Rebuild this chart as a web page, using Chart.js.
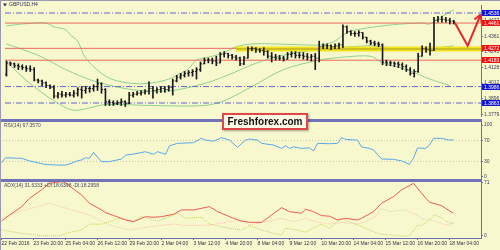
<!DOCTYPE html>
<html lang="en">
<head>
<meta charset="UTF-8">
<title>GBPUSD,H4</title>
<script src="https://cdn.jsdelivr.net/npm/chart.js"></script>
<style>
    body {
        margin: 0;
        width: 500px;
        height: 250px;
        background-color: #f8f8cf;
        position: relative;
        overflow: hidden;
    }
    .pane { position: absolute; left: 0; }
    .sep {
        position: absolute;
        left: 0;
        width: 482px;
        height: 3px;
        background-color: #7272b8;
    }
    .frame {
        position: absolute;
        left: 0; top: 0;
        width: 500px; height: 250px;
        border-top: 1px solid #9a9aae;
        border-left: 1px solid #9a9aae;
        box-sizing: border-box;
        pointer-events: none;
    }
    .stamp {
        position: absolute;
        left: 222px;
        top: 113px;
        width: 82px;
        height: 13px;
        background-color: #fdf7e6;
        border: 2px solid #e04848;
        box-shadow: 1px 1px 2px rgba(0,0,0,0.35);
        font: bold 10px 'Liberation Sans', Arial, sans-serif;
        color: #111;
        text-align: center;
        line-height: 13px;
    }
</style>
</head>
<body>
    <canvas id="mainChart" class="pane" style="top:0" width="500" height="121"></canvas>
    <canvas id="rsiChart" class="pane" style="top:120px" width="500" height="60"></canvas>
    <canvas id="adxChart" class="pane" style="top:180px" width="500" height="70"></canvas>
    <div class="sep" style="top:119px"></div>
    <div class="sep" style="top:179px"></div>
    <div class="frame"></div>
    <div class="stamp">Freshforex.com</div>

<script>
// ---- data (H4 bars, index 0 = first bar on the left) ----
const opens = [
    1.4078, 1.4163, 1.4156, 1.4142, 1.4135, 1.4128, 1.4120, 1.4113, 1.4035, 1.4028,
    1.4014, 1.3993, 1.3978, 1.3915, 1.3929, 1.3922, 1.3929, 1.3922, 1.3936, 1.3964,
    1.3957, 1.3971, 1.3971, 1.3986, 1.4007, 1.3964, 1.3873, 1.3866, 1.3858, 1.3866,
    1.3873, 1.3858, 1.3922, 1.3929, 1.3936, 1.3943, 1.3951, 1.3971, 1.3957, 1.3964,
    1.3971, 1.3964, 1.3978, 1.4028, 1.4057, 1.4071, 1.4085, 1.4092, 1.4099, 1.4113,
    1.4156, 1.4184, 1.4184, 1.4177, 1.4163, 1.4227, 1.4234, 1.4220, 1.4206, 1.4199,
    1.4156, 1.4199, 1.4270, 1.4270, 1.4262, 1.4255, 1.4248, 1.4213, 1.4206, 1.4199,
    1.4199, 1.4191, 1.4227, 1.4234, 1.4220, 1.4220, 1.4213, 1.4206, 1.4213, 1.4199,
    1.4284, 1.4291, 1.4291, 1.4284, 1.4291, 1.4298, 1.4433, 1.4397, 1.4383, 1.4383,
    1.4390, 1.4355, 1.4326, 1.4312, 1.4305, 1.4298, 1.4170, 1.4163, 1.4163, 1.4156,
    1.4149, 1.4135, 1.4113, 1.4085, 1.4099, 1.4213, 1.4270, 1.4262, 1.4255, 1.4482,
    1.4489, 1.4489, 1.4482, 1.4475
];
const highs = [
    1.4177, 1.4170, 1.4163, 1.4156, 1.4149, 1.4142, 1.4142, 1.4128, 1.4042, 1.4035,
    1.4021, 1.4000, 1.3993, 1.3943, 1.3951, 1.3943, 1.3943, 1.3957, 1.3978, 1.3986,
    1.3986, 1.3986, 1.4000, 1.4042, 1.4014, 1.3971, 1.3887, 1.3880, 1.3880, 1.3894,
    1.3880, 1.3943, 1.3943, 1.3951, 1.3957, 1.3964, 1.4021, 1.3986, 1.3978, 1.3986,
    1.3986, 1.3993, 1.4042, 1.4071, 1.4085, 1.4099, 1.4106, 1.4113, 1.4128, 1.4170,
    1.4199, 1.4199, 1.4199, 1.4213, 1.4241, 1.4248, 1.4234, 1.4227, 1.4220, 1.4206,
    1.4213, 1.4284, 1.4284, 1.4277, 1.4270, 1.4277, 1.4255, 1.4241, 1.4227, 1.4220,
    1.4213, 1.4241, 1.4248, 1.4248, 1.4241, 1.4241, 1.4234, 1.4227, 1.4234, 1.4326,
    1.4305, 1.4305, 1.4298, 1.4305, 1.4312, 1.4447, 1.4440, 1.4404, 1.4397, 1.4404,
    1.4390, 1.4355, 1.4333, 1.4326, 1.4319, 1.4305, 1.4184, 1.4177, 1.4170, 1.4170,
    1.4163, 1.4149, 1.4128, 1.4113, 1.4234, 1.4291, 1.4284, 1.4312, 1.4504, 1.4511,
    1.4511, 1.4504, 1.4497, 1.4482
];
const lows = [
    1.4064, 1.4142, 1.4128, 1.4113, 1.4113, 1.4099, 1.4099, 1.4028, 1.4014, 1.3993,
    1.3978, 1.3971, 1.3900, 1.3900, 1.3907, 1.3907, 1.3915, 1.3907, 1.3915, 1.3900,
    1.3936, 1.3943, 1.3951, 1.3957, 1.3936, 1.3844, 1.3844, 1.3844, 1.3851, 1.3844,
    1.3837, 1.3858, 1.3907, 1.3922, 1.3922, 1.3929, 1.3929, 1.3900, 1.3936, 1.3943,
    1.3943, 1.3951, 1.3922, 1.4021, 1.4042, 1.4057, 1.4064, 1.4064, 1.4042, 1.4099,
    1.4156, 1.4163, 1.4156, 1.4142, 1.4163, 1.4206, 1.4199, 1.4191, 1.4184, 1.4142,
    1.4149, 1.4199, 1.4255, 1.4241, 1.4241, 1.4220, 1.4199, 1.4170, 1.4184, 1.4184,
    1.4177, 1.4191, 1.4206, 1.4199, 1.4199, 1.4191, 1.4184, 1.4177, 1.4113, 1.4170,
    1.4270, 1.4270, 1.4262, 1.4270, 1.4270, 1.4277, 1.4383, 1.4369, 1.4362, 1.4362,
    1.4341, 1.4312, 1.4298, 1.4291, 1.4284, 1.4149, 1.4142, 1.4142, 1.4135, 1.4128,
    1.4113, 1.4099, 1.4071, 1.4057, 1.4092, 1.4213, 1.4241, 1.4220, 1.4255, 1.4468,
    1.4468, 1.4468, 1.4454, 1.4454
];
const closes = [
    1.4163, 1.4156, 1.4142, 1.4135, 1.4128, 1.4120, 1.4113, 1.4035, 1.4028, 1.4014,
    1.3993, 1.3978, 1.3915, 1.3929, 1.3922, 1.3929, 1.3922, 1.3936, 1.3964, 1.3957,
    1.3971, 1.3971, 1.3986, 1.4007, 1.3964, 1.3873, 1.3866, 1.3858, 1.3866, 1.3873,
    1.3858, 1.3922, 1.3929, 1.3936, 1.3943, 1.3951, 1.3971, 1.3957, 1.3964, 1.3971,
    1.3964, 1.3978, 1.4028, 1.4057, 1.4071, 1.4085, 1.4092, 1.4099, 1.4113, 1.4156,
    1.4184, 1.4184, 1.4177, 1.4163, 1.4227, 1.4234, 1.4220, 1.4206, 1.4199, 1.4156,
    1.4199, 1.4270, 1.4270, 1.4262, 1.4255, 1.4248, 1.4213, 1.4206, 1.4199, 1.4199,
    1.4191, 1.4227, 1.4234, 1.4220, 1.4220, 1.4213, 1.4206, 1.4213, 1.4199, 1.4284,
    1.4291, 1.4291, 1.4284, 1.4291, 1.4298, 1.4433, 1.4397, 1.4383, 1.4383, 1.4390,
    1.4355, 1.4326, 1.4312, 1.4305, 1.4298, 1.4170, 1.4163, 1.4163, 1.4156, 1.4149,
    1.4135, 1.4113, 1.4085, 1.4099, 1.4213, 1.4270, 1.4262, 1.4255, 1.4482, 1.4489,
    1.4489, 1.4482, 1.4475, 1.4468
];

// Bollinger bands at selected bars
const bbUpperIdx = [0, 4, 7, 10, 12, 15, 16, 18, 19, 20, 22, 25, 28, 33, 37, 41, 44, 46, 48, 52, 55, 58, 62, 67, 75, 80, 83, 86, 90, 95, 100, 105, 107, 110, 113];
const bbUpper = [1.4440, 1.4454, 1.4461, 1.4461, 1.4433, 1.4412, 1.4376, 1.4326, 1.4255, 1.4199, 1.4135, 1.4064, 1.4028, 1.4007, 1.4014, 1.4042, 1.4085, 1.4120, 1.4184, 1.4213, 1.4241, 1.4284, 1.4305, 1.4305, 1.4298, 1.4298, 1.4326, 1.4390, 1.4419, 1.4440, 1.4454, 1.4461, 1.4454, 1.4511, 1.4560];
const bbMidIdx = [0, 8, 15, 22, 30, 37, 42, 47, 52, 57, 62, 67, 72, 77, 82, 87, 92, 97, 102, 107, 113];
const bbMid = [1.4305, 1.4220, 1.4113, 1.4028, 1.3971, 1.3951, 1.3957, 1.3986, 1.4028, 1.4085, 1.4149, 1.4199, 1.4234, 1.4255, 1.4270, 1.4284, 1.4291, 1.4277, 1.4262, 1.4270, 1.4291];
const bbLowerIdx = [0, 6, 12, 17, 25, 37, 50, 55, 62, 70, 79, 85, 92, 95, 101, 107, 112];
const bbLower = [1.4170, 1.4007, 1.3880, 1.3809, 1.3851, 1.3844, 1.3844, 1.3880, 1.3986, 1.4113, 1.4184, 1.4206, 1.4213, 1.4163, 1.4113, 1.4042, 1.3993];

// horizontal levels drawn on the chart
const levelValues = [1.4536, 1.4461, 1.4272, 1.4183, 1.3986, 1.3863];
const levelKinds = ['blue', 'red', 'red', 'red', 'blue', 'blue'];
const zoneValue = 1.4267;
const zoneFrom = 58;

// forecast arrow
const arrowIdx = [113.3, 116.5, 119.8];
const arrowPrice = [1.4461, 1.4291, 1.4525];

const priceTicks = [1.3779, 1.3896, 1.4012, 1.4128, 1.4245, 1.4361, 1.4477];

// RSI(14)
const rsiIdx = [0, 1, 5, 7, 11, 14, 16, 17, 19, 20, 21, 22, 23, 25, 27, 30, 31, 33, 36, 38, 39, 41, 42, 44, 48, 50, 51, 53, 55, 57, 59, 61, 62, 64, 65, 68, 70, 71, 72, 73, 75, 77, 78, 79, 82, 84, 85, 86, 89, 90, 92, 93, 95, 98, 100, 102, 103, 104, 106, 107, 108, 110, 112, 113];
const rsiVal = [27.5, 37, 36, 31, 24, 23, 23, 25, 31, 33, 37, 36, 47.5, 29.5, 29.5, 34.6, 42, 44, 48.7, 43.6, 48.7, 43.6, 60, 64.7, 66, 74.4, 71, 69, 75.6, 71, 57, 71, 73, 71, 64.7, 61.5, 55, 60, 55, 58, 55, 56, 50, 64.7, 64, 64.7, 75.6, 72.5, 71, 58, 55, 52, 34.6, 34, 31, 24.4, 36, 56, 55, 61.5, 74.4, 74.4, 71, 71.5];
const rsiLevels = [70, 30];

// ADX(14) with +DI / -DI
const adxIdx = [0, 2, 5, 7, 10, 12, 15, 16, 17, 20, 22, 25, 26, 28, 31, 33, 36, 38, 40, 43, 45, 48, 52, 54, 58, 60, 62, 65, 67, 70, 72, 75, 76, 78, 80, 82, 84, 86, 89, 90, 93, 95, 98, 100, 103, 105, 107, 110, 111, 113];
const adxVal = [20, 28, 39, 50.5, 61.7, 70.6, 72.8, 71.5, 67, 55, 43.8, 34.9, 31.3, 27.5, 21.4, 19.2, 25.9, 25, 25.9, 29, 34.9, 34.9, 39.3, 32.6, 23.7, 20, 18.3, 18.3, 25.9, 38, 32.6, 30.4, 35.8, 32.6, 27.3, 26.5, 21.4, 23.7, 21.4, 23.7, 32.6, 43.8, 52.7, 61.7, 70.6, 57.2, 45.2, 40.6, 37.1, 30.4];
const pdiIdx = [0, 5, 10, 15, 16, 20, 22, 25, 27, 30, 33, 35, 39, 41, 44, 46, 50, 52, 57, 60, 62, 65, 67, 70, 71, 74, 76, 78, 80, 82, 85, 87, 90, 93, 95, 99, 102, 104, 105, 107, 108, 110, 111, 113];
const pdiVal = [8, 3.6, 0.4, 0.4, 3.6, 8, 15.7, 16, 19.2, 24.5, 20, 26, 20, 24, 30.4, 23.7, 25, 16, 10.3, 8, 14, 8, 5, 1.3, 10.3, 8, 5, 11, 15.7, 10.3, 23.7, 19, 12.5, 5.8, 2.3, 0.4, 0, 14.7, 14, 21.4, 28, 25, 20, 17];
const mdiIdx = [0, 5, 12, 16, 22, 27, 32, 37, 43, 46, 52, 60, 62, 67, 70, 73, 76, 79, 82, 85, 89, 91, 94, 95, 97, 99, 101, 103, 105, 109, 111, 113];
const mdiVal = [24, 33.5, 43.8, 37.5, 28, 14.7, 8, 12.5, 16, 14, 14.7, 21.4, 14.7, 20, 23.7, 19, 23.7, 18.3, 16, 18, 16, 19, 28, 37, 32.6, 34, 35, 30.4, 23.7, 19, 14.7, 17.4];

const timeTickIdx = [0, 8, 16, 24, 32, 40, 48, 56, 64, 72, 80, 88, 96, 104, 112];
const timeLabels = ['22 Feb 2016', '23 Feb 20:00', '25 Feb 04:00', '26 Feb 12:00', '29 Feb 20:00',
    '2 Mar 04:00', '3 Mar 12:00', '4 Mar 20:00', '8 Mar 04:00', '9 Mar 12:00', '10 Mar 20:00',
    '14 Mar 04:00', '15 Mar 12:00', '16 Mar 20:00', '18 Mar 04:00'];

// ---- shared settings ----
const FONT = "'Liberation Sans', Arial, sans-serif";
const AXIS = '#6e6eb4';
// bars land on half pixels so the 1px candles stay crisp
const X_MIN = -0.375, X_MAX = 119.875;
Chart.defaults.animation = false;
Chart.defaults.font.family = FONT;

const pts = (xs, ys) => xs.map((x, k) => ({ x: x, y: ys[k] }));
const flat = (v, from) => [{ x: from, y: v }, { x: X_MAX, y: v }];

function rightAxis(min, max, tickValues, fmt) {
    return {
        position: 'right',
        min: min,
        max: max,
        afterBuildTicks: s => { s.ticks = tickValues.map(v => ({ value: v })); },
        afterFit: s => { s.width = 19; s.paddingTop = 0; s.paddingBottom = 0; },
        ticks: { font: { size: 5 }, color: '#3c3c5a', padding: 1, callback: fmt },
        grid: { drawOnChartArea: false, tickLength: 2, color: AXIS },
        border: { color: AXIS, width: 1 }
    };
}
const hiddenX = { type: 'linear', min: X_MIN, max: X_MAX, offset: false, display: false };

// small text at the top-left of each pane
const paneText = {
    id: 'paneText',
    afterDraw(chart, args, opts) {
        const ctx = chart.ctx;
        ctx.save();
        ctx.font = '5px ' + FONT;
        ctx.fillStyle = opts.color;
        ctx.textBaseline = 'middle';
        if (opts.marker) {
            ctx.beginPath();
            ctx.moveTo(3, opts.y - 1.5);
            ctx.lineTo(7, opts.y - 1.5);
            ctx.lineTo(5, opts.y + 1.5);
            ctx.closePath();
            ctx.fill();
        }
        ctx.fillText(opts.text, opts.x, opts.y);
        ctx.restore();
    }
};

// coloured price boxes on the right axis
const levelBoxes = {
    id: 'levelBoxes',
    afterDraw(chart) {
        const { ctx, chartArea } = chart;
        const y = chart.scales.y;
        ctx.save();
        ctx.font = '5px ' + FONT;
        ctx.textBaseline = 'middle';
        levelValues.forEach((v, k) => {
            const py = Math.round(y.getPixelForValue(v));
            ctx.fillStyle = levelKinds[k] === 'red' ? '#f01010' : '#1414d8';
            ctx.fillRect(chartArea.right + 1, py - 3, 19, 6);
            ctx.fillStyle = '#ffffff';
            ctx.fillText(v.toFixed(4), chartArea.right + 3, py + 0.5);
        });
        ctx.restore();
    }
};

// arrow head at the end of the forecast line
const arrowHead = {
    id: 'arrowHead',
    afterDatasetsDraw(chart) {
        const pts = chart.getDatasetMeta(0).data;
        const a = pts[pts.length - 2], b = pts[pts.length - 1];
        const ang = Math.atan2(b.y - a.y, b.x - a.x);
        const ctx = chart.ctx;
        ctx.save();
        ctx.strokeStyle = '#e8262a';
        ctx.lineWidth = 2;
        ctx.beginPath();
        [-0.5, 0.5].forEach(d => {
            ctx.moveTo(b.x, b.y);
            ctx.lineTo(b.x - 8 * Math.cos(ang + d), b.y - 8 * Math.sin(ang + d));
        });
        ctx.stroke();
        ctx.restore();
    }
};

// ---- price pane ----
const barIdx = closes.map((c, i) => i);
const levelSets = levelValues.map((v, k) => ({
    type: 'line',
    data: flat(v, X_MIN),
    borderColor: levelKinds[k] === 'red' ? '#ea6a5e' : '#6464d2',
    borderWidth: 1,
    borderDash: levelKinds[k] === 'red' ? [] : [6, 2, 1, 2],
    pointRadius: 0,
    order: 6
}));
const bandSet = (xs, ys) => ({
    type: 'line',
    data: pts(xs, ys),
    borderColor: '#8fd08f',
    borderWidth: 1,
    tension: 0.3,
    pointRadius: 0,
    order: 7
});

new Chart(document.getElementById('mainChart'), {
    type: 'bar',
    data: {
        datasets: [
            {
                type: 'line',
                data: pts(arrowIdx, arrowPrice),
                borderColor: '#e8262a',
                borderWidth: 2,
                pointRadius: 0,
                order: 0
            },
            {
                type: 'line',
                data: pts(barIdx, opens),
                showLine: false,
                pointStyle: 'dash',
                pointRotation: 180,
                pointRadius: 1.5,
                pointBorderColor: '#1a1a1a',
                pointBorderWidth: 1,
                order: 1
            },
            {
                type: 'line',
                data: pts(barIdx, closes),
                showLine: false,
                pointStyle: 'dash',
                pointRadius: 1.5,
                pointBorderColor: '#1a1a1a',
                pointBorderWidth: 1,
                order: 1
            },
            {
                type: 'bar',
                data: barIdx.map(i => ({ x: i, y: [lows[i], highs[i]] })),
                backgroundColor: '#1a1a1a',
                barThickness: 1,
                order: 2
            },
            {
                type: 'line',
                data: flat(zoneValue, zoneFrom),
                borderColor: '#a89a2a',
                borderWidth: 1,
                pointRadius: 0,
                order: 3
            },
            {
                type: 'line',
                data: flat(zoneValue, zoneFrom),
                borderColor: '#f2e41c',
                borderWidth: 5,
                pointRadius: 0,
                order: 4
            },
            ...levelSets,
            bandSet(bbUpperIdx, bbUpper),
            bandSet(bbMidIdx, bbMid),
            bandSet(bbLowerIdx, bbLower)
        ]
    },
    options: {
        responsive: false,
        layout: { padding: { left: 0, right: 0, top: 2, bottom: 2 } },
        scales: {
            x: hiddenX,
            y: rightAxis(1.3766, 1.4596, priceTicks, v => v.toFixed(4))
        },
        plugins: {
            legend: { display: false },
            tooltip: { enabled: false },
            paneText: { text: 'GBPUSD,H4', x: 9, y: 5, color: '#2e2e5e', marker: true }
        }
    },
    plugins: [paneText, levelBoxes, arrowHead]
});

// ---- RSI pane ----
new Chart(document.getElementById('rsiChart'), {
    type: 'line',
    data: {
        datasets: [
            {
                data: pts(rsiIdx, rsiVal),
                borderColor: '#5aa8e6',
                borderWidth: 1,
                pointRadius: 0
            },
            ...rsiLevels.map(v => ({
                data: flat(v, X_MIN),
                borderColor: '#c4c4b4',
                borderWidth: 1,
                borderDash: [1, 2],
                pointRadius: 0
            }))
        ]
    },
    options: {
        responsive: false,
        layout: { padding: { left: 0, right: 0, top: 2, bottom: 1 } },
        scales: {
            x: hiddenX,
            y: rightAxis(-3.85, 105.8, [0, 30, 70, 100], v => String(v))
        },
        plugins: {
            legend: { display: false },
            tooltip: { enabled: false },
            paneText: { text: 'RSI(14) 67.3570', x: 4, y: 6, color: '#4a4a5a' }
        }
    },
    plugins: [paneText]
});

// ---- ADX pane ----
new Chart(document.getElementById('adxChart'), {
    type: 'line',
    data: {
        datasets: [
            {
                data: pts(adxIdx, adxVal),
                borderColor: '#ef5a55',
                borderWidth: 1,
                pointRadius: 0
            },
            {
                data: pts(pdiIdx, pdiVal),
                borderColor: '#b9d65a',
                borderWidth: 1,
                borderDash: [1, 1],
                pointRadius: 0
            },
            {
                data: pts(mdiIdx, mdiVal),
                borderColor: '#f2c6ae',
                borderWidth: 1,
                borderDash: [1, 1],
                pointRadius: 0
            }
        ]
    },
    options: {
        responsive: false,
        layout: { padding: { left: 0, right: 0, top: 2, bottom: 0 } },
        scales: {
            x: {
                type: 'linear',
                min: X_MIN,
                max: X_MAX,
                offset: false,
                afterBuildTicks: s => { s.ticks = timeTickIdx.map(v => ({ value: v })); },
                afterFit: s => { s.height = 12; s.paddingLeft = 0; s.paddingRight = 0; },
                ticks: {
                    autoSkip: false,
                    maxRotation: 0,
                    align: 'start',
                    padding: 1,
                    font: { size: 5 },
                    color: '#333344',
                    callback: (v, i) => timeLabels[i]
                },
                grid: { drawOnChartArea: false, tickLength: 2, color: AXIS },
                border: { color: AXIS, width: 1 }
            },
            y: rightAxis(-2.68, 72.3, [0, 71], v => String(v))
        },
        plugins: {
            legend: { display: false },
            tooltip: { enabled: false },
            paneText: { text: 'ADX(14) 31.6333 +DI:18.6398 -DI:18.2958', x: 4, y: 6, color: '#4a4a5a' }
        }
    },
    plugins: [paneText]
});
</script>
</body>
</html>
